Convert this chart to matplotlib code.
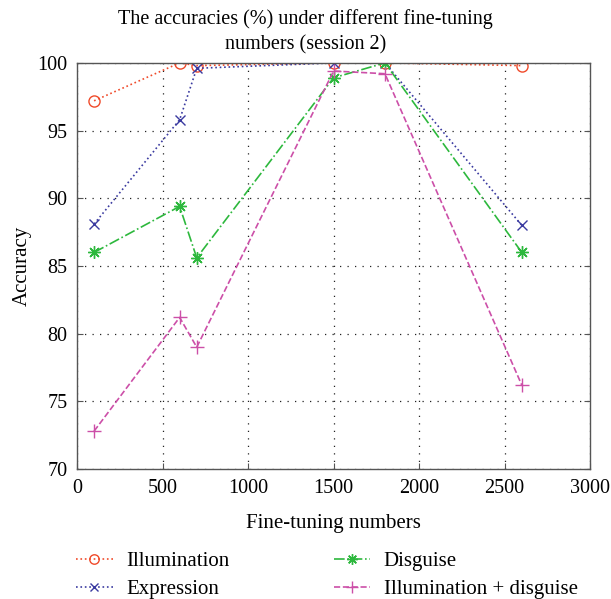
import matplotlib
matplotlib.use("Agg")
import matplotlib.pyplot as plt

x = [100, 600, 700, 1500, 1800, 2600]
illumination = [97.2, 100.0, 99.8, 100.0, 100.0, 99.8]
expression = [88.1, 95.8, 99.6, 100.0, 100.0, 88.0]
disguise = [86.0, 89.4, 85.6, 98.9, 100.0, 86.0]
illum_disguise = [72.8, 81.2, 79.0, 99.4, 99.2, 76.2]
labels = ["Illumination", "Expression", "Disguise", "Illumination + disguise"]

plt.rcParams['font.family'] = ['Liberation Serif', 'DejaVu Serif']
fig = plt.figure(figsize=(6.11, 5.99), dpi=100)
ax = fig.add_axes([0.126, 0.217, 0.840, 0.678])

ax.plot(x, illumination, linestyle=':', color='#f04a2a', marker='o', markersize=8,
        markerfacecolor='none', markeredgecolor='#f04a2a', lw=1.2, label=labels[0])
ax.plot(x, expression, linestyle=':', color='#3a3aa0', marker='x', markersize=7,
        lw=1.2, label=labels[1])
ax.plot(x, disguise, linestyle='-.', color='#2db83d', marker=(8, 2, 0), markersize=9,
        lw=1.2, label=labels[2])
ax.plot(x, illum_disguise, linestyle='--', color='#cc4fa8', marker='+', markersize=10,
        lw=1.2, label=labels[3])

ax.set_xlim(0, 3000)
ax.set_ylim(70, 100)
ax.set_xticks([0, 500, 1000, 1500, 2000, 2500, 3000])
ax.set_yticks([70, 75, 80, 85, 90, 95, 100])
ax.grid(True, linestyle=(0, (1, 5)), color='#222222', lw=0.9)
ax.tick_params(direction='in', labelsize=14.5, top=False, right=True, length=4,
               color='#555555', pad=7)
for s in ax.spines.values():
    s.set_color('#555555')
    s.set_linewidth(1.0)
ax.set_xlabel('Fine-tuning numbers', fontsize=15, labelpad=12)
ax.set_ylabel('Accuracy', fontsize=15, labelpad=4)
fig.text(0.5, 0.947, 'The accuracies (%) under different fine-tuning\nnumbers (session 2)',
         fontsize=14.5, ha='center', va='center', linespacing=1.45)

h, l = ax.get_legend_handles_labels()
fig.legend(h, l, ncol=2, loc='lower center',
           bbox_to_anchor=(0.535, -0.031), frameon=False, fontsize=15, columnspacing=5.0,
           handlelength=1.75, labelspacing=0.4, markerscale=0.85, handletextpad=0.65)
fig.savefig('out.png', dpi=100)
